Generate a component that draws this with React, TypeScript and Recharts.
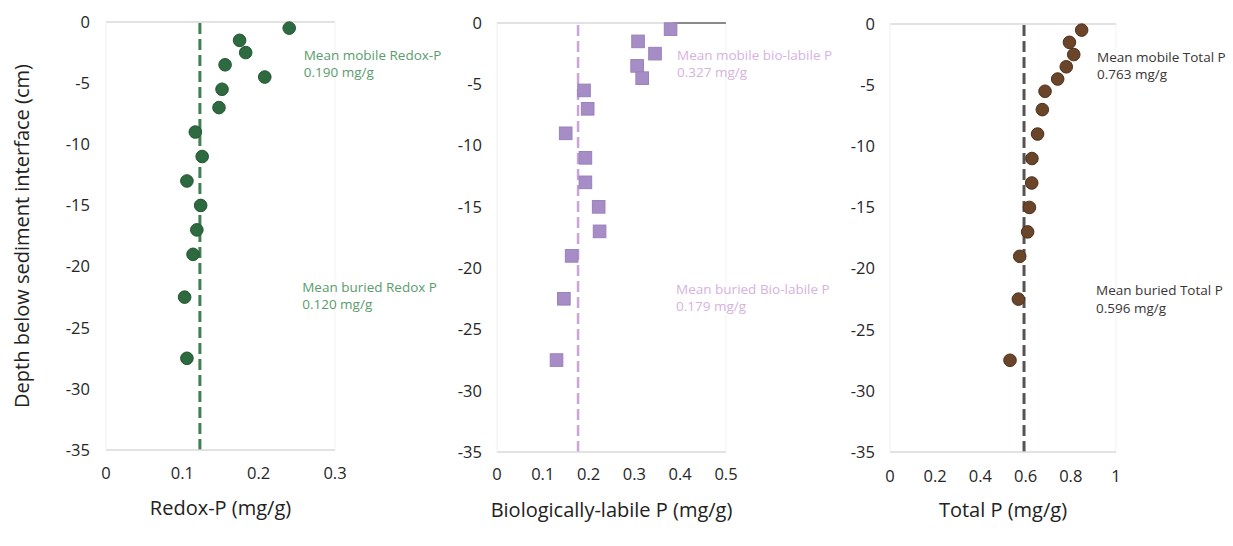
import React from 'react';
import { ScatterChart, Scatter, XAxis, YAxis, ReferenceLine, ReferenceDot } from 'recharts';

// depth of each sample (cm below the sediment interface)
const depths = [-0.5, -1.5, -2.5, -3.5, -4.5, -5.5, -7, -9, -11, -13, -15, -17, -19, -22.5, -27.5];

const redoxP = [0.240, 0.175, 0.183, 0.156, 0.208, 0.152, 0.148, 0.117, 0.126, 0.106, 0.124, 0.119, 0.114, 0.103, 0.106];
const bioP = [0.379, 0.308, 0.345, 0.306, 0.317, 0.190, 0.198, 0.150, 0.193, 0.193, 0.222, 0.224, 0.163, 0.146, 0.130];
const totalP = [0.848, 0.794, 0.813, 0.780, 0.742, 0.686, 0.674, 0.653, 0.628, 0.627, 0.617, 0.609, 0.574, 0.568, 0.531];

// dashed mean lines as drawn
const redoxMeanLine = 0.123;
const bioMeanLine = 0.177;
const totalMeanLine = 0.593;

const depthTicks = [0, -5, -10, -15, -20, -25, -30, -35];
const redoxTicks = [0, 0.1, 0.2, 0.3];
const bioTicks = [0, 0.1, 0.2, 0.3, 0.4, 0.5];
const totalTicks = [0, 0.2, 0.4, 0.6, 0.8, 1];

const redoxNotes = ['Mean mobile Redox-P', '0.190 mg/g', 'Mean buried Redox P', '0.120 mg/g'];
const bioNotes = ['Mean mobile bio-labile P', '0.327 mg/g', 'Mean buried Bio-labile P', '0.179 mg/g'];
const totalNotes = ['Mean mobile Total P', '0.763 mg/g', 'Mean buried Total P', '0.596 mg/g'];

const toPoints = (vals: number[]) => vals.map((v, i) => ({ v, d: depths[i] }));

const Note = ({ viewBox, lines, color }: any) => (
    <text x={viewBox.x} y={viewBox.y} fill={color} fontSize={13.5}>
        <tspan x={viewBox.x} dy={0}>{lines[0]}</tspan>
        <tspan x={viewBox.x} dy={17.5}>{lines[1]}</tspan>
    </text>
);

type PanelProps = {
    left: number;
    width: number;
    yWidth: number;
    top: number;
    right: number;
    bottom: number;
    yTickMargin: number;
    xTickMargin: number;
    max: number;
    xTicks: number[];
    values: number[];
    meanLine: number;
    notes: string[];
    noteX: number[];
    noteY: number[];
    noteColor: string;
    lineColor: string;
    lineWidth: number;
    marker: 'circle' | 'square';
    markerColor: string;
    markerStroke: string;
    title: string;
    showDepthTitle?: boolean;
    extra?: React.ReactNode;
};

const Panel = (p: PanelProps) => (
    <div style={{ position: 'absolute', left: p.left, top: 0 }}>
        <ScatterChart width={p.width} height={546} margin={{ top: p.top, right: p.right, bottom: p.bottom, left: 0 }}>
            <XAxis
                type="number"
                dataKey="v"
                domain={[0, p.max]}
                ticks={p.xTicks}
                tickSize={0}
                tickMargin={p.xTickMargin}
                tick={{ fill: '#262626', fontSize: 16.5 }}
                axisLine={{ stroke: '#d9d9d9', strokeWidth: 1.5 }}
                height={70}
                label={{ value: p.title, position: 'insideBottom', offset: 5, fill: '#222', fontSize: 20 }}
            />
            <YAxis
                type="number"
                dataKey="d"
                domain={[-35, 0]}
                ticks={depthTicks}
                width={p.yWidth}
                tickSize={0}
                tickMargin={p.yTickMargin}
                tick={{ fill: '#262626', fontSize: 16.5 }}
                axisLine={{ stroke: '#efefef' }}
                label={p.showDepthTitle ? (props: any) => {
                    const cy = props.viewBox.y + props.viewBox.height / 2;
                    return (
                        <text x={29} y={cy} transform={`rotate(-90, 29, ${cy})`} textAnchor="middle" fill="#222" fontSize={20}>
                            Depth below sediment interface (cm)
                        </text>
                    );
                } : undefined}
            />
            <ReferenceLine y={0} stroke="#d9d9d9" strokeWidth={1.5} />
            <ReferenceLine x={p.max} stroke="#f3f3f3" />
            {p.extra}
            <ReferenceLine x={p.meanLine} stroke={p.lineColor} strokeWidth={p.lineWidth} strokeDasharray="11 5" />
            <Scatter
                data={toPoints(p.values)}
                isAnimationActive={false}
                fill={p.markerColor}
                shape={(s: any) =>
                    p.marker === 'circle'
                        ? <circle cx={s.cx} cy={s.cy} r={6.3} fill={p.markerColor} stroke={p.markerStroke} strokeWidth={1} />
                        : <rect x={s.cx - 6.3} y={s.cy - 6.3} width={12.6} height={12.6} fill={p.markerColor} stroke={p.markerStroke} strokeWidth={1} />
                }
            />
            <ReferenceDot x={p.noteX[0]} y={p.noteY[0]} r={0} fill="none" stroke="none"
                label={(props: any) => <Note viewBox={props.viewBox} lines={p.notes.slice(0, 2)} color={p.noteColor} />} />
            <ReferenceDot x={p.noteX[1]} y={p.noteY[1]} r={0} fill="none" stroke="none"
                label={(props: any) => <Note viewBox={props.viewBox} lines={p.notes.slice(2, 4)} color={p.noteColor} />} />
        </ScatterChart>
    </div>
);

export default function App() {
    return (
        <div style={{ position: 'absolute', left: 0, top: 0, width: 1233, height: 546, background: '#fff', fontFamily: "'Open Sans', sans-serif", overflow: 'hidden' }}>
            <Panel
                left={0} width={460} yWidth={106} top={22} right={125} bottom={26}
                yTickMargin={16} xTickMargin={17}
                max={0.3} xTicks={redoxTicks} values={redoxP} meanLine={redoxMeanLine}
                notes={redoxNotes} noteX={[0.259, 0.257]} noteY={[-3.07, -22.04]} noteColor="#5a9c6c"
                lineColor="#3f7f50" lineWidth={3}
                marker="circle" markerColor="#2e6a3f" markerStroke="#245532"
                title="Redox-P (mg/g)" showDepthTitle
            />
            <Panel
                left={440} width={410} yWidth={57} top={23} right={124} bottom={24}
                yTickMargin={15} xTickMargin={16}
                max={0.5} xTicks={bioTicks} values={bioP} meanLine={bioMeanLine}
                notes={bioNotes} noteX={[0.393, 0.391]} noteY={[-2.98, -22.07]} noteColor="#d6b2de"
                lineColor="#c9a4db" lineWidth={2.5}
                marker="square" markerColor="#a68dc6" markerStroke="#9a80bb"
                title="Biologically-labile P (mg/g)"
                extra={<ReferenceLine segment={[{ x: 0.385, y: 0 }, { x: 0.5, y: 0 }]} stroke="#333" strokeWidth={1} />}
            />
            <Panel
                left={840} width={393} yWidth={50} top={24} right={117} bottom={24}
                yTickMargin={15} xTickMargin={18}
                max={1} xTicks={totalTicks} values={totalP} meanLine={totalMeanLine}
                notes={totalNotes} noteX={[0.916, 0.912]} noteY={[-3.07, -22.2]} noteColor="#3a3535"
                lineColor="#5a5252" lineWidth={3}
                marker="circle" markerColor="#6a4529" markerStroke="#4e321d"
                title="Total P (mg/g)"
            />
        </div>
    );
}
